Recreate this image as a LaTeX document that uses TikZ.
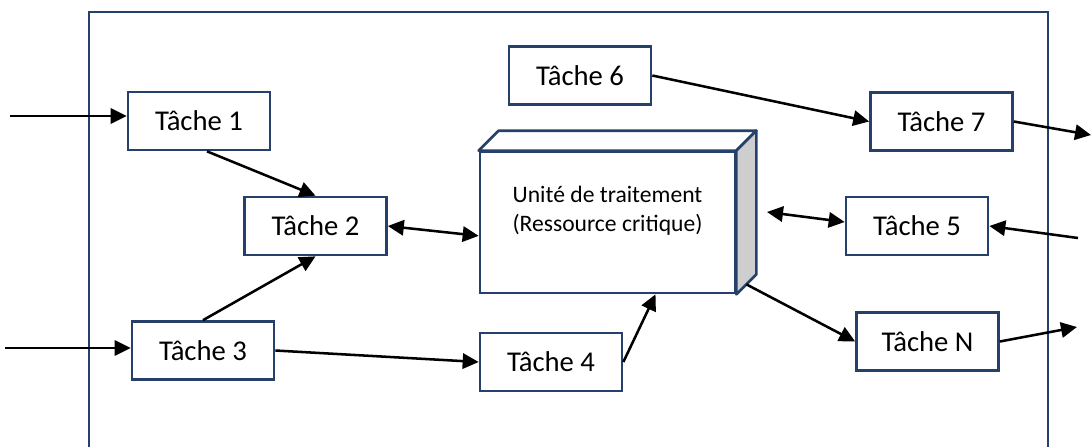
\documentclass[tikz,border=0pt]{standalone}
\usepackage{fontspec}
\setmainfont{Carlito}
\usetikzlibrary{arrows.meta,positioning}
\definecolor{boxblue}{RGB}{37,64,107}
\definecolor{sidegray}{RGB}{206,206,206}

\begin{document}
\begin{tikzpicture}[
  x=0.75pt, y=-0.75pt,
  every node/.style={align=center},
  task/.style={draw=boxblue, line width=2pt, fill=white, minimum width=106.5pt, minimum height=43.5pt, inner sep=0pt, font=\fontsize{21.5}{26}\selectfont},
  unitbox/.style={draw=boxblue, line width=2pt, fill=white, minimum width=191.25pt, minimum height=105.75pt, inner sep=0pt},
  face/.style={draw=boxblue, line width=2pt, line join=round},
  flow/.style={-{Triangle[length=12pt,width=11.5pt]}, line width=1.9pt},
  biflow/.style={{Triangle[length=12pt,width=11.5pt]}-{Triangle[length=12pt,width=11.5pt]}, line width=1.9pt},
  frame/.style={draw=boxblue, line width=2.1pt}]

  \useasboundingbox (0,0) rectangle (1092,447);

  % system boundary, open at the bottom
  \draw[frame] (89,447) |- (1048,12) -- (1048,447);

  % tasks
  \node[task] (t1) at (199,121) {Tâche 1};
  \node[task] (t2) at (315.5,226) {Tâche 2};
  \node[task] (t3) at (203,350.5) {Tâche 3};
  \node[task] (t4) at (551,362) {Tâche 4};
  \node[task] (t5) at (917,226) {Tâche 5};
  \node[task] (t6) at (580,75.5) {Tâche 6};
  \node[task] (t7) at (941.5,121.5) {Tâche 7};
  \node[task] (tN) at (927.5,341.5) {Tâche N};

  % the shared processing unit, drawn as a box
  \node[unitbox] (unit) at (607.5,222.5) {};
  \draw[face, fill=white] (unit.north west) -- ([shift={(20,-20)}]unit.north west)
    -- ([shift={(20,-20)}]unit.north east) -- (unit.north east) -- cycle;
  \draw[face, fill=sidegray] (unit.north east) -- ([shift={(20,-20)}]unit.north east)
    -- ([shift={(20,-20)}]unit.south east) -- (unit.south east) -- cycle;
  \node[font=\fontsize{17.7}{21.75}\selectfont] (unitlabel) at (607.5,211)
    {Unité de traitement\\(Ressource critique)};

  \coordinate (in1) at (10,116);
  \coordinate (in3) at (5,348);
  \coordinate (in5) at (1078,238);
  \coordinate (out7) at (1091,135);
  \coordinate (outN) at (1077,327);
  \coordinate (ufree) at (767,212);

  \draw[flow] (in1) -- (in1 -| t1.west);
  \draw[flow] (in3) -- (in3 -| t3.west);
  \draw[flow] ([xshift=6pt]t1.south) -- (t2.north);
  \draw[flow] (t3.north) -- (t2.south);
  \draw[biflow] (t2.east) -- ([yshift=-10pt]unit.west);
  \draw[flow] (t3.east) -- (t4.west);
  \draw[flow] (t4.east) -- ([xshift=36pt]unit.south);
  \draw[flow] (t6.east) -- (t7.west);
  \draw[flow] (t7.east) -- (out7);
  \draw[biflow] (ufree) -- ([yshift=3pt]t5.west);
  \draw[flow] (in5) -- (t5.east);
  \draw[flow] ([shift={(10,-10)}]unit.south east) -- (tN.west);
  \draw[flow] (tN.east) -- (outN);

\end{tikzpicture}
\end{document}
